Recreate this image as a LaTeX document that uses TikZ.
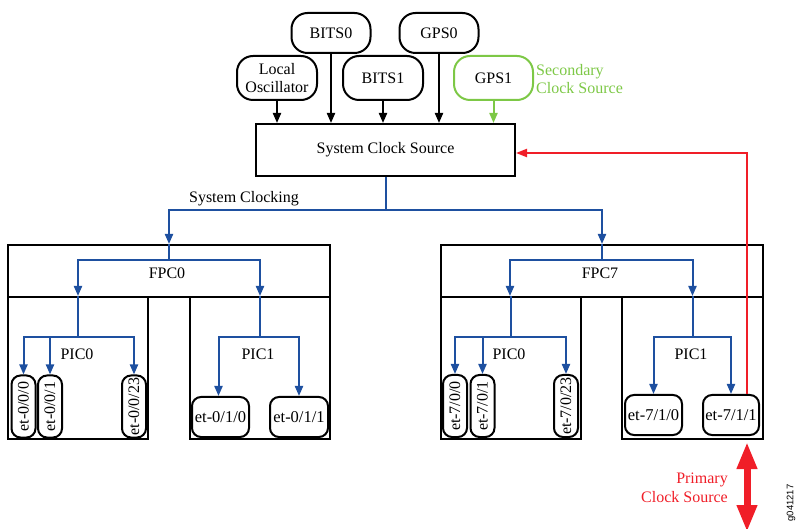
\documentclass[tikz,border=0pt]{standalone}
\usepackage{fontspec}
\setmainfont{Liberation Serif}
\newfontfamily\idfont{Liberation Sans}
\usetikzlibrary{arrows.meta}

\definecolor{clkblue}{RGB}{30,80,160}
\definecolor{secgreen}{RGB}{125,200,70}
\definecolor{primred}{RGB}{240,30,40}

\begin{document}
\begin{tikzpicture}[x=1pt,y=-1pt,
  font=\fontsize{16}{18}\selectfont,
  src/.style={draw,line width=2pt,rounded corners=16pt,inner sep=1pt,
    align=center,minimum width=79pt,minimum height=42pt},
  blk/.style={draw,line width=2pt,inner sep=0pt},
  port/.style={draw,line width=2pt,rounded corners=9pt,inner sep=0pt},
  vport/.style={port,rotate=90,minimum width=62pt,minimum height=24pt},
  hport/.style={port,minimum width=57pt,minimum height=40pt,
    font=\fontsize{16.5}{18}\selectfont},
  feed/.style={line width=2pt,-{Triangle[length=10pt,width=8pt]}},
  dist/.style={line width=2pt,clkblue,-{Triangle[length=10pt,width=8pt]}},
  lbl/.style={inner sep=0pt}
]
\useasboundingbox (0,0) rectangle (801,529);

% clock sources
\node[src,minimum height=40pt] (bits0) at (331,33) {BITS0};
\node[src,minimum height=40pt] (gps0) at (439,33) {GPS0};
\node[src,minimum width=80pt,minimum height=44pt] (losc) at (277,78) {Local\\[0pt]Oscillator};
\node[src,minimum width=80pt,minimum height=44pt] (bits1) at (383,78) {BITS1};
\node[src,draw=secgreen,minimum height=44pt] (gps1) at (493.5,78) {GPS1};
\node[lbl,anchor=west,align=left,text=secgreen] (seclbl) at (536,79) {Secondary\\[0pt]Clock Source};

\node[blk,minimum width=259pt,minimum height=52pt] (scs) at (385.5,150) {System Clock Source};

\draw[feed] (losc) -- (losc |- scs.north);
\draw[feed] (bits0) -- (bits0 |- scs.north);
\draw[feed] (bits1) -- (bits1 |- scs.north);
\draw[feed] (gps0) -- (gps0 |- scs.north);
\draw[feed,secgreen] (gps1) -- (gps1 |- scs.north);

% FPC and PIC enclosures
\node[blk,minimum width=322pt,minimum height=52pt] (fpc0) at (169,271) {};
\node[blk,minimum width=140pt,minimum height=142pt] (pic00) at (78,368) {};
\node[blk,minimum width=140pt,minimum height=142pt] (pic01) at (260,368) {};
\node[blk,minimum width=322pt,minimum height=52pt] (fpc7) at (602,271) {};
\node[blk,minimum width=140pt,minimum height=142pt] (pic70) at (511,368) {};
\node[blk,minimum width=141pt,minimum height=142pt] (pic71) at (692.5,368) {};

\node[lbl] (fpc0lbl) at (167,273) {FPC0};
\node[lbl] (pic00lbl) at (77,354) {PIC0};
\node[lbl] (pic01lbl) at (258,354) {PIC1};
\node[lbl] (fpc7lbl) at (600,273) {FPC7};
\node[lbl] (pic70lbl) at (509,354) {PIC0};
\node[lbl] (pic71lbl) at (691,354) {PIC1};

% ports
\node[vport] (p000) at (23.5,406.5) {et-0/0/0};
\node[vport] (p001) at (50,406.5) {et-0/0/1};
\node[vport] (p0023) at (134,406.5) {et-0/0/23};
\node[hport] (p010) at (220.5,417) {et-0/1/0};
\node[hport,minimum width=58pt] (p011) at (299,417) {et-0/1/1};
\node[vport] (p700) at (455,406) {et-7/0/0};
\node[vport] (p701) at (482.5,406) {et-7/0/1};
\node[vport] (p7023) at (566,406) {et-7/0/23};
\node[hport] (p710) at (653.5,415) {et-7/1/0};
\node[hport,minimum width=56pt] (p711) at (731,415) {et-7/1/1};

% distribution levels
\coordinate (sysbus) at (0,210);
\coordinate (fpcbus) at (0,260);
\coordinate (picbus) at (0,337);

\node[lbl] (syslbl) at (244,199) {System Clocking};

\draw[dist] (scs.south) -- (scs.south |- sysbus) -| (fpc0.north);
\draw[dist] (scs.south) -- (scs.south |- sysbus) -| (fpc7.north);

\draw[dist] (fpc0.north) -- (fpc0.north |- fpcbus) -| (pic00.north);
\draw[dist] (fpc0.north) -- (fpc0.north |- fpcbus) -| (pic01.north);
\draw[dist] (fpc7.north) -- (fpc7.north |- fpcbus) -| ([xshift=-1pt]pic70.north);
\draw[dist] (fpc7.north) -- (fpc7.north |- fpcbus) -| (pic71.north);

\draw[dist] (pic00.north) -- (pic00.north |- picbus) -| (p000.east);
\draw[dist] (pic00.north) -- (pic00.north |- picbus) -| (p001.east);
\draw[dist] (pic00.north) -- (pic00.north |- picbus) -| (p0023.east);
\draw[dist] (pic01.north) -- (pic01.north |- picbus) -| ([xshift=-2pt]p010.north);
\draw[dist] (pic01.north) -- (pic01.north |- picbus) -| (p011.north);

\draw[dist] (pic70.north) -- (pic70.north |- picbus) -| (p700.east);
\draw[dist] (pic70.north) -- (pic70.north |- picbus) -| (p701.east);
\draw[dist] (pic70.north) -- (pic70.north |- picbus) -| (p7023.east);
\draw[dist] (pic71.north) -- (pic71.north |- picbus) -| (p710.north);
\draw[dist] (pic71.north) -- (pic71.north |- picbus) -| (p711.north);

% primary clock source path
\draw[line width=2pt,primred,-{Triangle[length=11pt,width=8pt]}]
  ([xshift=16pt]p711.north) |- ([yshift=-3pt]scs.east);

\coordinate (pcstop) at (747,442);
\coordinate (pcsbot) at (747,532);
\draw[primred,line width=7pt,{Triangle[length=27pt,width=19pt]}-{Triangle[length=27pt,width=19pt]}]
  (pcstop) -- (pcsbot);
\node[lbl,anchor=east,align=right,text=primred] (pcslbl) at (728,488) {Primary\\[1pt]Clock Source};

\node[lbl,rotate=90,font=\idfont\fontsize{9.5}{11}\selectfont] (figid) at (791,503) {g041217};
\end{tikzpicture}
\end{document}
